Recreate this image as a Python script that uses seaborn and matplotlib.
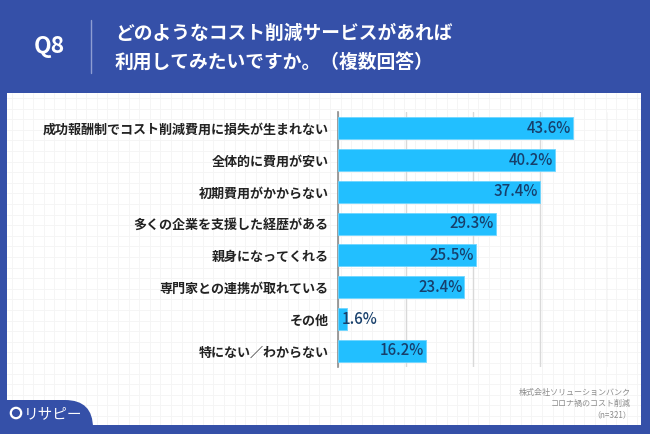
import matplotlib.pyplot as plt
import seaborn as sns
import numpy as np
import pandas as pd
from matplotlib.patches import FancyBboxPatch, Circle
from matplotlib.lines import Line2D

# データ
labels = [
    '成功報酬制でコスト削減費用に損失が生まれない',
    '全体的に費用が安い',
    '初期費用がかからない',
    '多くの企業を支援した経歴がある',
    '親身になってくれる',
    '専門家との連携が取れている',
    'その他',
    '特にない／わからない',
]
values = [43.6, 40.2, 37.4, 29.3, 25.5, 23.4, 1.6, 16.2]
x_ticks = [0, 12.5, 25, 37.5, 50]

title_lines = ['どのようなコスト削減サービスがあれば', '利用してみたいですか。（複数回答）']
source_lines = ['株式会社ソリューションバンク', 'コロナ禍のコスト削減', '（n=321）']

BLUE = '#3550A8'
BAR = '#22BFFF'
LABEL = '#173F6B'

sns.set_theme(style='white')
plt.rcParams['font.family'] = ['Noto Sans CJK JP', 'DejaVu Sans']

W, H = 650, 434
fig = plt.figure(figsize=(6.5, 4.34), dpi=100, facecolor=BLUE)


def fx(px):
    return px / W


def fy(py):
    return 1 - py / H


# 白いパネル（方眼の背景）
px0, px1, py0, py1 = 7, 641, 93, 425
bg = fig.add_axes([fx(px0), fy(py1), fx(px1 - px0), (py1 - py0) / H])
bg.set_facecolor('white')
bg.set_xlim(px0, px1)
bg.set_ylim(py1, py0)
for gx in np.arange(px0 + 5, px1, 10.6):
    bg.axvline(gx, color='#F4F4F4', lw=0.6)
for gy in np.arange(py0 + 5, py1, 10.6):
    bg.axhline(gy, color='#F4F4F4', lw=0.6)
bg.set_xticks([])
bg.set_yticks([])
for s in bg.spines.values():
    s.set_visible(False)

# 棒グラフ
ax_l, ax_r, ax_t, ax_b = 338.3, 607.8, 112.3, 366.7
ax = fig.add_axes([fx(ax_l), fy(ax_b), fx(ax_r - ax_l), (ax_b - ax_t) / H])
ax.set_facecolor('none')
df = pd.DataFrame({'label': labels, 'value': values})
sns.barplot(data=df, x='value', y='label', orient='h', color=BAR,
            width=0.69, edgecolor='#6FD6FF', linewidth=0.6, saturation=1,
            ax=ax, zorder=3)
ax.set_xlim(0, 50)
ax.set_ylim(7.5, -0.5)
ax.set_xticks(x_ticks)
ax.xaxis.grid(True, color='#D9D9D9', lw=1)
ax.set_axisbelow(True)
ax.tick_params(axis='x', length=0, labelbottom=False)
ax.tick_params(axis='y', length=0, pad=7)
ax.set_xlabel('')
ax.set_ylabel('')
for lab in ax.get_yticklabels():
    lab.set_fontsize(9.4)
    lab.set_fontweight('bold')
    lab.set_color('#222222')
for side in ['top', 'right', 'bottom']:
    ax.spines[side].set_visible(False)
ax.spines['left'].set_color('#8C8C8C')
ax.spines['left'].set_linewidth(1.2)

for i, v in enumerate(values):
    if v > 5:
        ax.annotate(f'{v:.1f}%', (v, i), xytext=(-1.5, 0), textcoords='offset points',
                    ha='right', va='center', fontsize=10.8, fontweight='medium',
                    color=LABEL, zorder=4)
    else:
        ax.annotate(f'{v:.1f}%', (0, i), xytext=(2.5, 0), textcoords='offset points',
                    ha='left', va='center', fontsize=10.8, fontweight='medium',
                    color=LABEL, zorder=4)

# ヘッダー
fig.text(fx(49), fy(47), 'Q8', color='white', fontsize=16.5, fontweight='bold',
         ha='center', va='center')
fig.add_artist(Line2D([fx(90.7), fx(90.7)], [fy(20), fy(73)], color='#8E9DD2', lw=1))
fig.text(fx(115), fy(33), title_lines[0], color='white', fontsize=13.5,
         fontweight='bold', ha='left', va='center')
fig.text(fx(115), fy(62), title_lines[1], color='white', fontsize=13.5,
         fontweight='bold', ha='left', va='center')

# 出典
for k, line in enumerate(source_lines):
    fig.text(fx(631), fy(392 + 11.5 * k), line, color='#8C8C8C', fontsize=5.8,
             ha='right', va='center')

# ロゴ
blob = FancyBboxPatch((-40, -40), 133, 74, boxstyle='round,pad=0,rounding_size=28',
                      transform=None, facecolor=BLUE, edgecolor='none')
fig.add_artist(blob)
fig.add_artist(Circle((16, H - 413), 5.2, transform=None, facecolor='none',
                      edgecolor='white', lw=1.6))
fig.text(fx(24), fy(414), 'リサピー', color='white', fontsize=10.5,
         ha='left', va='center')

fig.savefig('out.png', dpi=100, facecolor=BLUE)
